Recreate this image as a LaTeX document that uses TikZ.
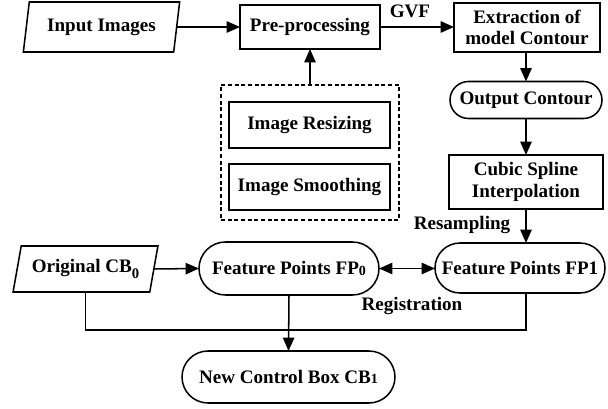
\documentclass[tikz,border=0pt]{standalone}
\usepackage{fontspec}
\setmainfont{Liberation Serif}
\usetikzlibrary{arrows.meta,shapes.geometric,shapes.misc,calc}
\begin{document}
\begin{tikzpicture}[x=0.75pt,y=-0.75pt,
  every node/.style={font=\fontsize{14.3}{16}\selectfont\bfseries, inner sep=0pt, outer sep=0pt},
  box/.style={draw, line width=1.15pt, rectangle, align=center},
  pill/.style={draw, line width=1.15pt, rounded rectangle, align=center},
  para/.style={draw, line width=1.15pt, trapezium, trapezium stretches=true},
  conn/.style={line width=1.15pt, -{Triangle[length=10pt,width=8.5pt]}},
  dconn/.style={line width=1.15pt, {Triangle[length=10pt,width=8.5pt]}-{Triangle[length=10pt,width=8.5pt]}},
  plain/.style={line width=1.15pt},
  lbl/.style={font=\fontsize{14.3}{16}\selectfont\bfseries}
]
\useasboundingbox (0,0) rectangle (608,409);

\node[para, trapezium left angle=75, trapezium right angle=105,
      minimum width=117.75pt, minimum height=37.5pt] (inp) at (101.5,27) {Input Images};
\node[box, minimum width=105pt, minimum height=33pt] (pre) at (310,27) {Pre-processing};
\node[box, minimum width=109.5pt, minimum height=36.75pt] (ext) at (527,27.5) {Extraction of\\model Contour};
\node[pill, minimum width=114pt, minimum height=27.75pt] (out) at (526,100) {Output Contour};
\node[box, minimum width=115.5pt, minimum height=40.5pt] (cub) at (526,182) {Cubic Spline\\Interpolation};

\node[draw, line width=0.9pt, dash pattern=on 3pt off 2pt, minimum width=133.5pt, minimum height=101.25pt] (grp) at (310,152.5) {};
\node[box, minimum width=120.75pt, minimum height=34.5pt] (rsz) at (309.5,125) {Image Resizing};
\node[box, minimum width=120.75pt, minimum height=34.5pt] (smo) at (309.5,187) {Image Smoothing};

\node[para, trapezium left angle=70, trapezium right angle=110,
      minimum width=108.75pt, minimum height=34.5pt] (cb0) at (85.5,269)
      {Original CB\raisebox{-4pt}{\fontsize{11}{11}\selectfont 0}};
\node[pill, minimum width=135pt, minimum height=39.75pt] (fp0) at (289,268.5)
      {Feature Points FP\raisebox{-0.5pt}{\fontsize{10.5}{10.5}\selectfont 0}};
\node[pill, minimum width=127.5pt, minimum height=37.5pt] (fp1) at (520,268) {Feature Points FP1};
\node[pill, minimum width=159.75pt, minimum height=39pt] (ncb) at (288.5,377)
      {New Control Box CB\raisebox{-0.5pt}{\fontsize{10.5}{10.5}\selectfont 1}};

\node[lbl] (gvf) at (410,11) {GVF};
\node[lbl] (rsm) at (462,225) {Resampling};
\node[lbl] (reg) at (412,306) {Registration};

\coordinate (fp1s) at (fp1.south -| cub.south);
\coordinate (corner) at ($(fp1s)+(0,37)$);

\draw[conn] (inp.east) -- (pre.west);
\draw[conn] (pre.east) -- (ext.west |- pre.east);
\draw[conn] (grp.north) -- (pre.south);
\draw[conn] (ext.south -| out.north) -- (out.north);
\draw[conn] (out.south) -- (cub.north);
\draw[conn] (cub.south) -- (cub.south |- fp1.north);
\draw[conn] (cb0.east) -- (fp0.west);
\draw[dconn] (fp0.east) -- (fp1.west |- fp0.east);
\draw[plain] (cb0.south) |- (corner) -- (fp1s);
\draw[conn] (fp0.south) -- (ncb.north);
\end{tikzpicture}
\end{document}
